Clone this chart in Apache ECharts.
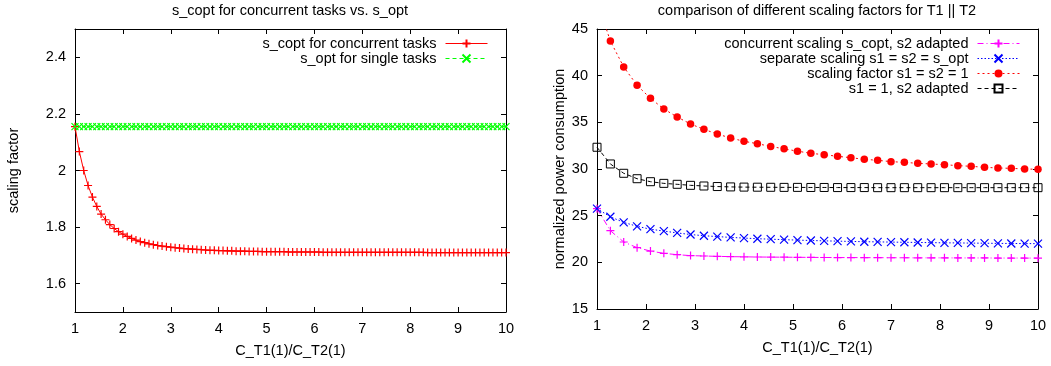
<!DOCTYPE html>
<html>
<head>
<meta charset="utf-8">
<script src="https://cdn.jsdelivr.net/npm/echarts@6/dist/echarts.min.js"></script>
<style>
  html, body { margin: 0; padding: 0; background: #fff; }
  #chart { width: 1051px; height: 366px; }
</style>
</head>
<body>
<div id="chart"></div>
<script>
// left panel, 100 samples between 1 and 10
const xLeft = [
  1, 1.091, 1.182, 1.273, 1.364, 1.455, 1.545, 1.636, 1.727, 1.818, 1.909,
  2, 2.091, 2.182, 2.273, 2.364, 2.455, 2.545, 2.636, 2.727, 2.818, 2.909,
  3, 3.091, 3.182, 3.273, 3.364, 3.455, 3.545, 3.636, 3.727, 3.818, 3.909,
  4, 4.091, 4.182, 4.273, 4.364, 4.455, 4.545, 4.636, 4.727, 4.818, 4.909,
  5, 5.091, 5.182, 5.273, 5.364, 5.455, 5.545, 5.636, 5.727, 5.818, 5.909,
  6, 6.091, 6.182, 6.273, 6.364, 6.455, 6.545, 6.636, 6.727, 6.818, 6.909,
  7, 7.091, 7.182, 7.273, 7.364, 7.455, 7.545, 7.636, 7.727, 7.818, 7.909,
  8, 8.091, 8.182, 8.273, 8.364, 8.455, 8.545, 8.636, 8.727, 8.818, 8.909,
  9, 9.091, 9.182, 9.273, 9.364, 9.455, 9.545, 9.636, 9.727, 9.818, 9.909,
  10
]
const sCopt = [
  2.155, 2.067, 2.000, 1.947, 1.906, 1.873, 1.846, 1.826, 1.809, 1.795, 1.784,
  1.775, 1.767, 1.760, 1.754, 1.749, 1.745, 1.741, 1.738, 1.735, 1.733, 1.731,
  1.729, 1.727, 1.726, 1.724, 1.723, 1.722, 1.721, 1.720, 1.719, 1.718, 1.718,
  1.717, 1.717, 1.716, 1.716, 1.715, 1.715, 1.715, 1.714, 1.714, 1.714, 1.713,
  1.713, 1.713, 1.713, 1.713, 1.713, 1.712, 1.712, 1.712, 1.712, 1.712, 1.712,
  1.712, 1.712, 1.711, 1.711, 1.711, 1.711, 1.711, 1.711, 1.711, 1.711, 1.711,
  1.711, 1.711, 1.711, 1.711, 1.711, 1.711, 1.711, 1.711, 1.711, 1.711, 1.711,
  1.711, 1.711, 1.711, 1.711, 1.710, 1.710, 1.710, 1.710, 1.710, 1.710, 1.710,
  1.710, 1.710, 1.710, 1.710, 1.710, 1.710, 1.710, 1.710, 1.710, 1.710, 1.710,
  1.710
]
const sOpt = [
  2.155, 2.155, 2.155, 2.155, 2.155, 2.155, 2.155, 2.155, 2.155, 2.155, 2.155,
  2.155, 2.155, 2.155, 2.155, 2.155, 2.155, 2.155, 2.155, 2.155, 2.155, 2.155,
  2.155, 2.155, 2.155, 2.155, 2.155, 2.155, 2.155, 2.155, 2.155, 2.155, 2.155,
  2.155, 2.155, 2.155, 2.155, 2.155, 2.155, 2.155, 2.155, 2.155, 2.155, 2.155,
  2.155, 2.155, 2.155, 2.155, 2.155, 2.155, 2.155, 2.155, 2.155, 2.155, 2.155,
  2.155, 2.155, 2.155, 2.155, 2.155, 2.155, 2.155, 2.155, 2.155, 2.155, 2.155,
  2.155, 2.155, 2.155, 2.155, 2.155, 2.155, 2.155, 2.155, 2.155, 2.155, 2.155,
  2.155, 2.155, 2.155, 2.155, 2.155, 2.155, 2.155, 2.155, 2.155, 2.155, 2.155,
  2.155, 2.155, 2.155, 2.155, 2.155, 2.155, 2.155, 2.155, 2.155, 2.155, 2.155,
  2.155
]
const leftYTicks = [1.6, 1.8, 2, 2.2, 2.4]

// right panel, 34 samples between 1 and 10
const xRight = [
  1, 1.273, 1.545, 1.818, 2.091, 2.364, 2.636, 2.909, 3.182, 3.455, 3.727,
  4, 4.273, 4.545, 4.818, 5.091, 5.364, 5.636, 5.909, 6.182, 6.455, 6.727,
  7, 7.273, 7.545, 7.818, 8.091, 8.364, 8.636, 8.909, 9.182, 9.455, 9.727,
  10
]
const concurrentScaling = [
  25.75, 23.39, 22.18, 21.57, 21.21, 20.96, 20.82, 20.72, 20.68, 20.64, 20.61,
  20.59, 20.57, 20.56, 20.55, 20.54, 20.53, 20.52, 20.51, 20.51, 20.50, 20.50,
  20.49, 20.49, 20.48, 20.48, 20.48, 20.47, 20.47, 20.47, 20.46, 20.46, 20.46,
  20.45
]
const separateScaling = [
  25.75, 24.88, 24.28, 23.86, 23.55, 23.35, 23.15, 22.98, 22.85, 22.76, 22.67,
  22.60, 22.53, 22.48, 22.43, 22.38, 22.34, 22.30, 22.27, 22.24, 22.21, 22.19,
  22.17, 22.15, 22.13, 22.11, 22.09, 22.08, 22.06, 22.05, 22.03, 22.02, 22.01,
  22.00
]
const scalingOne = [
  48.00, 43.71, 40.93, 38.97, 37.57, 36.43, 35.57, 34.82, 34.25, 33.75, 33.32,
  32.97, 32.71, 32.42, 32.16, 31.91, 31.68, 31.53, 31.36, 31.21, 31.04, 30.93,
  30.79, 30.71, 30.61, 30.54, 30.46, 30.36, 30.29, 30.18, 30.11, 30.07, 30.00,
  29.97
]
const s1OneS2Adapted = [
  32.33, 30.54, 29.54, 28.96, 28.64, 28.46, 28.36, 28.25, 28.18, 28.12, 28.08,
  28.06, 28.05, 28.04, 28.03, 28.03, 28.02, 28.02, 28.01, 28.01, 28.01, 28.00,
  28.00, 28.00, 28.00, 28.00, 28.00, 28.00, 28.00, 28.00, 28.00, 28.00, 28.00,
  28.00
]

const FONT = 'Liberation Sans'
const FS = 14.5
const PLUS = 'path://M0,5L10,5M5,0L5,10'
const CROSS = 'path://M0,0L10,10M10,0L0,10'

const pairs = (xs, ys) => xs.map((x, i) => [x, ys[i]])

const textStyle = { fontFamily: FONT, fontSize: FS, color: '#000' }

const frameAxis = (gridIndex, position, extra) => Object.assign({
  type: 'value',
  gridIndex: gridIndex,
  position: position,
  axisLine: { show: true, onZero: false, lineStyle: { color: '#000', width: 1 } },
  axisTick: { show: true, inside: true, length: 5, lineStyle: { color: '#000' } },
  axisLabel: { show: false },
  splitLine: { show: false }
}, extra)

const xLabel = { show: true, margin: 9, fontFamily: FONT, fontSize: FS, color: '#000' }
const xName = { nameLocation: 'middle', nameGap: 31, nameTextStyle: textStyle }

const option = {
  animation: false,
  title: [
    { text: 's_copt for concurrent tasks vs. s_opt', left: 290, top: 3, padding: 0,
      textAlign: 'center', textStyle: Object.assign({ fontWeight: 'normal' }, textStyle) },
    { text: 'comparison of different scaling factors for T1 || T2', left: 817, top: 3, padding: 0,
      textAlign: 'center', textStyle: Object.assign({ fontWeight: 'normal' }, textStyle) }
  ],
  legend: [
    {
      data: ['s_copt for concurrent tasks', 's_opt for single tasks'],
      orient: 'vertical', align: 'right', right: 563, top: 36, padding: 0,
      itemWidth: 42, itemHeight: 10, itemGap: 0, selectedMode: false,
      lineStyle: { width: 1 },
      textStyle: Object.assign({ lineHeight: 14.2, padding: [0, 4, 0, 0] }, textStyle)
    },
    {
      data: ['concurrent scaling s_copt, s2 adapted', 'separate scaling s1 = s2 = s_opt',
        'scaling factor s1 = s2 = 1', 's1 = 1, s2 adapted'],
      orient: 'vertical', align: 'right', right: 31, top: 36, padding: 0,
      itemWidth: 42, itemHeight: 10, itemGap: 0, selectedMode: false,
      lineStyle: { width: 1 },
      textStyle: Object.assign({ lineHeight: 14.8, padding: [0, 4, 0, 0] }, textStyle)
    }
  ],
  grid: [
    { left: 75, top: 29, width: 431, height: 283 },
    { left: 597, top: 29, width: 441, height: 280 }
  ],
  xAxis: [
    frameAxis(0, 'bottom', Object.assign({ min: 1, max: 10, interval: 1, axisLabel: xLabel,
      name: 'C_T1(1)/C_T2(1)' }, xName)),
    frameAxis(0, 'top', { min: 1, max: 10, interval: 1 }),
    frameAxis(1, 'bottom', Object.assign({ min: 1, max: 10, interval: 1, axisLabel: xLabel,
      name: 'C_T1(1)/C_T2(1)' }, xName)),
    frameAxis(1, 'top', { min: 1, max: 10, interval: 1 })
  ],
  yAxis: [
    frameAxis(0, 'left', {
      min: 1.5, max: 2.5,
      axisTick: { show: true, inside: true, length: 5, customValues: leftYTicks, lineStyle: { color: '#000' } },
      axisLabel: { show: true, margin: 9, customValues: leftYTicks, fontFamily: FONT, fontSize: FS, color: '#000',
        formatter: v => String(Math.round(v * 10) / 10) },
      name: 'scaling factor', nameLocation: 'middle', nameGap: 54, nameTextStyle: textStyle
    }),
    frameAxis(0, 'right', {
      min: 1.5, max: 2.5,
      axisTick: { show: true, inside: true, length: 5, customValues: leftYTicks, lineStyle: { color: '#000' } }
    }),
    frameAxis(1, 'left', {
      min: 15, max: 45, interval: 5,
      axisLabel: { show: true, margin: 9, fontFamily: FONT, fontSize: FS, color: '#000' },
      name: 'normalized power consumption', nameLocation: 'middle', nameGap: 30, nameTextStyle: textStyle
    }),
    frameAxis(1, 'right', { min: 15, max: 45, interval: 5 })
  ],
  series: [
    {
      name: 's_copt for concurrent tasks', type: 'line', xAxisIndex: 0, yAxisIndex: 0,
      data: pairs(xLeft, sCopt), symbol: PLUS, symbolSize: 8,
      lineStyle: { color: '#ff0000', width: 1 },
      itemStyle: { color: '#ff0000', borderColor: '#ff0000', borderWidth: 1.2 },
      emphasis: { disabled: true }
    },
    {
      name: 's_opt for single tasks', type: 'line', xAxisIndex: 0, yAxisIndex: 0,
      data: pairs(xLeft, sOpt), symbol: CROSS, symbolSize: 7,
      lineStyle: { color: '#00ff00', width: 1, type: [4, 3] },
      itemStyle: { color: '#00ff00', borderColor: '#00ff00', borderWidth: 1.2 },
      emphasis: { disabled: true }
    },
    {
      name: 'concurrent scaling s_copt, s2 adapted', type: 'line', xAxisIndex: 2, yAxisIndex: 2,
      data: pairs(xRight, concurrentScaling), symbol: PLUS, symbolSize: 8,
      lineStyle: { color: '#ff00ff', width: 1, type: [6, 3, 1, 3] },
      itemStyle: { color: '#ff00ff', borderColor: '#ff00ff', borderWidth: 1.2 },
      emphasis: { disabled: true }
    },
    {
      name: 'separate scaling s1 = s2 = s_opt', type: 'line', xAxisIndex: 2, yAxisIndex: 2,
      data: pairs(xRight, separateScaling), symbol: CROSS, symbolSize: 8,
      lineStyle: { color: '#0000ff', width: 1, type: [1.5, 2] },
      itemStyle: { color: '#0000ff', borderColor: '#0000ff', borderWidth: 1.2 },
      emphasis: { disabled: true }
    },
    {
      name: 'scaling factor s1 = s2 = 1', type: 'line', xAxisIndex: 2, yAxisIndex: 2,
      data: pairs(xRight, scalingOne), symbol: 'circle', symbolSize: 7.5,
      lineStyle: { color: '#ff0000', width: 1, type: [2, 3] },
      itemStyle: { color: '#ff0000', borderWidth: 0 },
      emphasis: { disabled: true }
    },
    {
      name: 's1 = 1, s2 adapted', type: 'line', xAxisIndex: 2, yAxisIndex: 2,
      data: pairs(xRight, s1OneS2Adapted), symbol: 'rect', symbolSize: 8,
      lineStyle: { color: '#000', width: 1, type: [4, 3] },
      itemStyle: { color: 'rgba(255,255,255,0)', borderColor: '#000', borderWidth: 1 },
      emphasis: { disabled: true }
    }
  ]
}

const chart = echarts.init(document.getElementById('chart'))
chart.setOption(option)
</script>
</body>
</html>
